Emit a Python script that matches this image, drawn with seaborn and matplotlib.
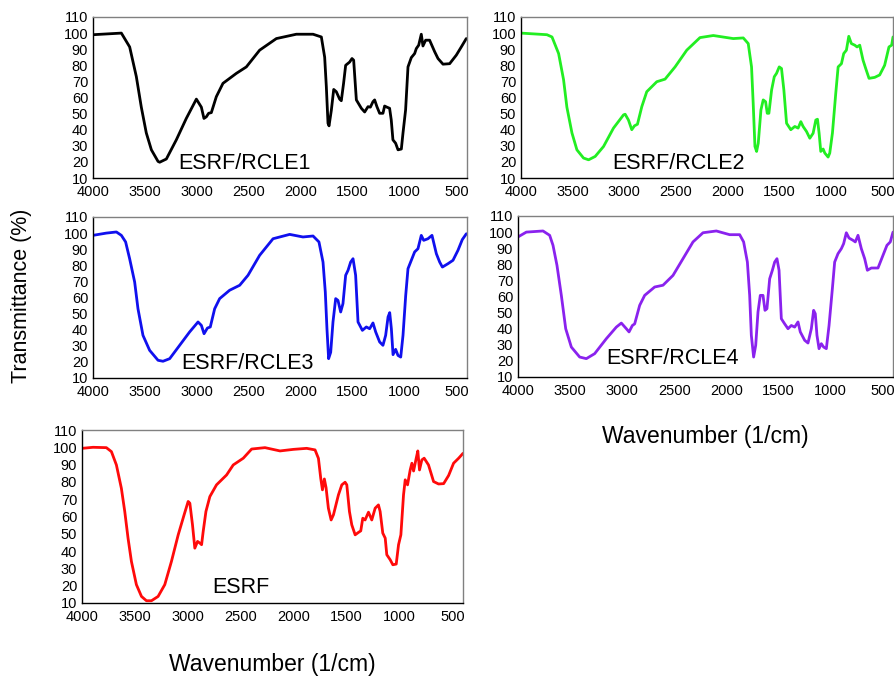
import pandas as pd
import matplotlib
matplotlib.use('Agg')
import matplotlib.pyplot as plt
import seaborn as sns

# Данные спектров (волновое число, пропускание)
wn1 = [4000, 3727, 3647, 3583, 3535, 3487, 3438, 3374, 3358, 3294, 3198, 3102, 3005, 2957, 2932, 2909,
       2887, 2861, 2813, 2749, 2620, 2524, 2396, 2235, 2043, 1882, 1802, 1770, 1754, 1738, 1728, 1706,
       1683, 1658, 1626, 1610, 1588, 1568, 1530, 1507, 1491, 1465, 1417, 1385, 1353, 1330, 1305, 1289,
       1267, 1241, 1209, 1193, 1171, 1145, 1129, 1113, 1087, 1064, 1032, 1016, 991, 968, 936, 904, 888,
       865, 840, 824, 798, 760, 711, 679, 631, 567, 503, 455, 407]
t1 = [99, 100, 91.4, 73, 54, 38, 27.5, 20.3, 19.8, 21.8, 33.7, 47, 59, 54, 47, 48,
      50.2, 50.6, 60.5, 68.8, 75, 79, 89.4, 96.6, 99.3, 99.3, 97.6, 85, 66.7, 44, 42.4, 52,
      65, 63.6, 59, 58, 68.8, 80, 82, 84.2, 83.2, 58.5, 53.3, 51, 54.3, 54, 57.4, 58.5,
      54.3, 50.2, 50.2, 54.7, 54, 53.3, 46, 33.7, 31.6, 27.5, 28, 38, 52.3, 79, 84.8, 87.3, 90.4,
      92.5, 99.3, 92, 95.6, 95.6, 88.4, 84.2, 80.7, 81, 86.3, 91.4, 96.6]

wn2 = [4000, 3749, 3700, 3636, 3588, 3556, 3507, 3459, 3395, 3346, 3282, 3201, 3105, 3008, 2992, 2960,
       2928, 2902, 2873, 2831, 2783, 2686, 2606, 2509, 2396, 2268, 2139, 1946, 1849, 1801, 1769, 1753,
       1736, 1720, 1704, 1678, 1656, 1633, 1617, 1601, 1575, 1549, 1527, 1501, 1479, 1456, 1430, 1389,
       1350, 1318, 1292, 1270, 1237, 1205, 1173, 1147, 1131, 1115, 1099, 1076, 1060, 1028, 1012, 986,
       954, 931, 899, 877, 851, 828, 803, 770, 748, 722, 690, 664, 632, 577, 529, 481, 439, 413, 400]
t2 = [100, 99, 97.6, 87.3, 71, 54, 38, 27.5, 22.4, 21.3, 23.4, 29.6, 41, 49.2, 49.6, 46,
      40, 42.4, 43.4, 54.3, 63.6, 69.8, 71.4, 79, 89.4, 97.2, 98.5, 96.6, 97, 93.5, 79, 56.4,
      29.6, 26.5, 31.6, 52.3, 58.5, 57.4, 50.2, 50.2, 64.6, 72.9, 75, 79, 78, 64.6, 44, 40,
      42, 41, 45, 42, 38.9, 34.7, 37.8, 46, 46.5, 37.8, 26.5, 28, 25.5, 23, 25.5, 38,
      62.6, 79, 81, 87.3, 89.4, 98, 93.5, 92.5, 91.4, 92.5, 83.2, 78, 71.9, 72.5, 74, 80, 91.4, 92.5, 97.6]

wn3 = [4000, 3872, 3775, 3727, 3686, 3647, 3599, 3567, 3519, 3455, 3374, 3326, 3262, 3166, 3070, 2989,
       2957, 2931, 2899, 2871, 2829, 2781, 2685, 2588, 2508, 2396, 2267, 2107, 1979, 1882, 1825, 1786,
       1764, 1748, 1732, 1712, 1690, 1664, 1642, 1616, 1594, 1568, 1545, 1520, 1497, 1472, 1449, 1407,
       1369, 1337, 1305, 1279, 1241, 1209, 1183, 1160, 1144, 1128, 1112, 1087, 1064, 1038, 1016, 990,
       968, 936, 904, 872, 840, 817, 776, 737, 695, 663, 637, 583, 535, 487, 445, 406]
t3 = [98.6, 100, 100.7, 98.6, 94.5, 84, 69.6, 53, 36.5, 27.2, 21, 20.4, 22, 30.3, 38.6, 44.8,
      42.7, 37.5, 41, 41.7, 53, 59.3, 64.5, 67.6, 73.8, 86.2, 96.5, 99.2, 97.6, 98.2, 94.5, 82,
      63.4, 40.6, 22, 26, 44.8, 59.3, 58.2, 51, 56.2, 73.8, 76.9, 82, 84.1, 73.8, 44.8, 39.6,
      41.7, 40.6, 44.2, 38.6, 32.4, 30.3, 36.5, 47.9, 50.6, 40.6, 24.5, 27.8, 24, 23, 36.5, 61.3,
      77.9, 83.1, 88.3, 90.3, 98.6, 95.5, 96.5, 98.6, 87.2, 82, 78.9, 81, 83.1, 89.3, 96, 99.6]

wn4 = [4000, 3920, 3760, 3696, 3664, 3626, 3584, 3542, 3488, 3408, 3344, 3264, 3152, 3056, 3008, 2960,
       2934, 2902, 2880, 2832, 2784, 2688, 2608, 2512, 2416, 2320, 2224, 2096, 1968, 1872, 1834, 1798,
       1776, 1760, 1738, 1718, 1696, 1674, 1648, 1629, 1610, 1584, 1558, 1536, 1514, 1494, 1472, 1440,
       1408, 1376, 1344, 1312, 1290, 1248, 1216, 1184, 1162, 1146, 1130, 1110, 1088, 1066, 1040, 1014,
       982, 960, 928, 896, 874, 848, 822, 784, 762, 736, 704, 672, 646, 608, 544, 496, 458, 426, 400]
t4 = [97, 100, 100.7, 98, 91.8, 79.4, 60.7, 40, 28.6, 22.4, 21.4, 24.5, 33.8, 41, 43.5, 40,
      38, 42, 43, 54.5, 60.7, 65.9, 67, 73.1, 83.5, 93.9, 99.6, 100.7, 98.4, 98.4, 93.9, 81.4,
      60.7, 35.9, 22.4, 29.7, 50.4, 60.7, 60.7, 51.4, 52.4, 71, 76.3, 81.4, 83.5, 76.3, 46.2, 43,
      40, 42, 41, 44.2, 38, 32.8, 31.1, 40, 51.4, 49.3, 35.9, 27.6, 30.7, 28.6, 27.6, 42,
      64.9, 81.4, 86.6, 89.7, 92.8, 99.6, 96.3, 94.9, 93.9, 98, 89.7, 83.5, 76.3, 77.7, 77.7, 85.6, 91.8, 93.9, 100]

wn5 = [4000, 3896, 3770, 3722, 3675, 3628, 3596, 3565, 3533, 3486, 3438, 3391, 3344, 3281, 3218, 3155,
       3091, 3035, 2997, 2981, 2956, 2934, 2908, 2886, 2870, 2855, 2829, 2792, 2729, 2634, 2571, 2476,
       2397, 2271, 2129, 2003, 1877, 1798, 1766, 1744, 1728, 1710, 1694, 1672, 1646, 1624, 1577, 1545,
       1514, 1498, 1473, 1451, 1419, 1388, 1366, 1347, 1325, 1293, 1262, 1230, 1199, 1183, 1158, 1135,
       1120, 1088, 1063, 1031, 1009, 987, 962, 946, 924, 899, 883, 867, 842, 827, 811, 789, 767, 726,
       678, 631, 583, 536, 489, 441, 400]
t5 = [99.4, 100, 99.8, 97.5, 89.8, 76.3, 62.9, 47.5, 34, 20.6, 13.8, 11.3, 11.3, 13.8, 20.6, 34,
      49.4, 61, 68.7, 67.7, 55.2, 41.7, 45.6, 44.6, 43.7, 51.3, 62.9, 71.5, 78.3, 84, 89.8, 93.7,
      99, 99.8, 97.9, 98.8, 99.4, 98.5, 93.6, 82, 75.4, 81.7, 76.7, 64.8, 58, 61, 72.5, 78.3,
      79.8, 78.3, 62.9, 55.2, 49.4, 50.8, 51.7, 59, 58, 62.5, 58, 64.8, 66.7, 62.9, 50.4, 47.5,
      37.9, 35, 32.1, 32.5, 43.7, 49.4, 72.5, 81.2, 78.3, 86.9, 90.8, 86.3, 93.7, 97.9, 86.9, 92.7, 93.7, 89.8,
      80.2, 78.8, 79, 83.7, 90.8, 93.7, 96.5]

names = ['ESRF/RCLE1', 'ESRF/RCLE2', 'ESRF/RCLE3', 'ESRF/RCLE4', 'ESRF']
colors = ['#000000', '#22ee22', '#1010ee', '#8a22ee', '#ff0a0a']
spectra = [(wn1, t1), (wn2, t2), (wn3, t3), (wn4, t4), (wn5, t5)]

sns.set_style('white')
plt.rcParams['font.family'] = ['Liberation Sans', 'DejaVu Sans']
plt.rcParams['text.color'] = 'black'
plt.rcParams['xtick.color'] = 'black'
plt.rcParams['ytick.color'] = 'black'

fig = plt.figure(figsize=(8.95, 6.82), dpi=100)

# Положение панелей в пикселях: (лево, верх, право, низ)
boxes = [(93, 17, 467, 178), (521, 17, 893, 178),
         (93, 217, 467, 378), (518, 216, 893, 377),
         (82, 430, 463, 603)]
label_pos = [(2540, 19.3), (2480, 19.3), (2510, 19.3), (2520, 21.8), (2500, 19.2)]

W, H = 895, 682
for i, (x0, y0, x1, y1) in enumerate(boxes):
    ax = fig.add_axes([x0 / W, 1 - y1 / H, (x1 - x0) / W, (y1 - y0) / H])
    wn, tr = spectra[i]
    df = pd.DataFrame({'wn': wn, 'T': tr})
    sns.lineplot(data=df, x='wn', y='T', ax=ax, color=colors[i], linewidth=2.0, sort=False)
    ax.set_xlim(4000, 400)
    ax.set_ylim(10, 110)
    ax.set_xticks([4000, 3500, 3000, 2500, 2000, 1500, 1000, 500])
    ax.set_yticks(range(10, 111, 10))
    ax.tick_params(axis='y', length=0, labelsize=10.5, pad=3.5)
    ax.tick_params(axis='x', length=0, labelsize=10.5, pad=5)
    ax.set_xlabel('')
    ax.set_ylabel('')
    for s in ['left', 'bottom']:
        ax.spines[s].set_color('black')
        ax.spines[s].set_linewidth(1.0)
    for s in ['top', 'right']:
        ax.spines[s].set_color('#808080')
        ax.spines[s].set_linewidth(1.0)
    lx, ly = label_pos[i]
    ax.text(lx, ly, names[i], fontsize=15.5, ha='center', va='center')

fig.text(22 / W, 1 - 296 / H, 'Transmittance (%)', rotation=90, fontsize=15.5, ha='center', va='center')
fig.text(705 / W, 1 - 437 / H, 'Wavenumber (1/cm)', fontsize=16.5, ha='center', va='center')
fig.text(272 / W, 1 - 665 / H, 'Wavenumber (1/cm)', fontsize=16.5, ha='center', va='center')

plt.savefig('out.png', dpi=100)
